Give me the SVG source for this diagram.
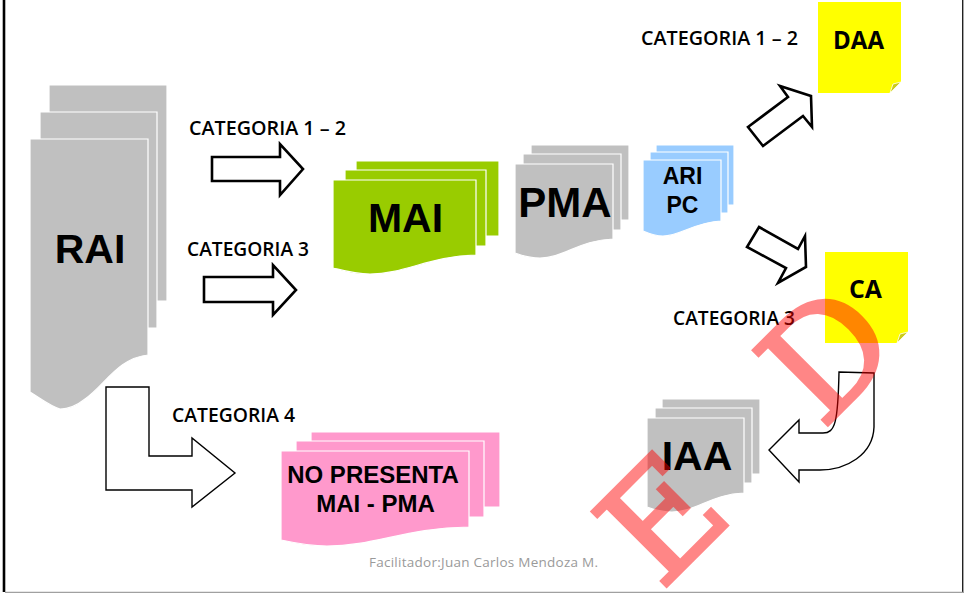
<svg xmlns="http://www.w3.org/2000/svg" width="964" height="594" viewBox="0 0 964 594">
<style>
.sheet{stroke:#fff;stroke-width:1.2}
.gray{fill:#c0c0c0}.green{fill:#99cc00}.blue{fill:#99ccff}.pink{fill:#ff99cc}.yellow{fill:#ffff00}
.fold{fill:#cccc1a;stroke:#fff;stroke-width:.8}
.arrow{fill:#fff;stroke:#000;stroke-width:2.6;stroke-miterlimit:8}
.thin{fill:#fff;stroke:#000;stroke-width:1.4;stroke-miterlimit:8}
.big{font-family:"Liberation Sans",Arial,sans-serif;font-weight:700;fill:#000;text-anchor:middle}
.lab{font-family:"Open Sans","Noto Sans",sans-serif;font-weight:600;font-size:19.5px;fill:#000}
.tah{font-family:"Open Sans","Noto Sans",sans-serif;font-weight:700;font-size:25px;fill:#000}
</style>
<rect width="964" height="594" fill="#fff"/>
<g id="frame">
<path d="M4 0V592" stroke="#000" stroke-width="2.6" fill="none"/>
<path d="M962.7 0V592" stroke="#222" stroke-width="1.4" fill="none"/>
<path d="M5 592.4H964" stroke="#a0a0a0" stroke-width="1.4" fill="none"/>
</g>
<g id="connectors">
<path class="arrow" d="M212 157H280V144L303 169L280 195V181H212Z"/>
<path class="arrow" d="M204 277H273V265L296 290L273 315V302H204Z"/>
<path class="arrow" d="M748 127L788 97L780 86L811 96L812 127L803 116L763 146Z"/>
<path class="arrow" d="M759 227L798 249L805 236L806 267L778 283L786 268L747 247Z"/>
<path class="thin" d="M106 387H149V456H192V438L235 473L192 507V490H106Z"/>
<path class="thin" d="M839 372L874 373V427C873 455 846 470 820 470H799V482L769 450L799 420V433H823C835 433 838 423 839 372Z"/>
</g>
<g id="RAI">
<path class="sheet gray" d="M49 85H167V301H49Z"/>
<path class="sheet gray" d="M40 112H157V328H40Z"/>
<path class="sheet gray" d="M30 139H148V355C118 358 105 385 85 399C75 407 68 409 60 409C50 406 40 398 30 392Z"/>
<text class="big" x="90" y="263" font-size="41">RAI</text>
</g>
<g id="MAI">
<path class="sheet green" d="M356 161H499V236H356Z"/>
<path class="sheet green" d="M345 170H486V246H345Z"/>
<path class="sheet green" d="M333 180H476V255C430 256 405 274 370 274C355 274 345 271 333 268Z"/>
<text class="big" x="405.500" y="232" font-size="41">MAI</text>
</g>
<g id="PMA">
<path class="sheet gray" d="M531 145H629V220H531Z"/>
<path class="sheet gray" d="M523 154H621V230H523Z"/>
<path class="sheet gray" d="M515 164H613V239C580 240 563 258 540 258C530 258 523 256 515 253Z"/>
<text class="big" x="565" y="217" font-size="42">PMA</text>
</g>
<g id="ARI-PC">
<path class="sheet blue" d="M656 145H734V205H656Z"/>
<path class="sheet blue" d="M650 152H728V213H650Z"/>
<path class="sheet blue" d="M643 160H721V221C695 222 680 236 663 236C656 236 650 234 643 231Z"/>
<text class="big" x="682.500" y="184" font-size="23">ARI</text>
<text class="big" x="682.500" y="213" font-size="23">PC</text>
</g>
<g id="DAA">
<path class="yellow" d="M818 2H901V82L890 93H818Z"/>
<path class="fold" d="M890 93L893 84L901 82Z"/>
<text class="tah" x="833" y="49" textLength="51" lengthAdjust="spacingAndGlyphs">DAA</text>
</g>
<g id="CA">
<path class="yellow" d="M825 252H908V332L897 343H825Z"/>
<path class="fold" d="M897 343L900 334L908 332Z"/>
<text class="tah" x="849" y="298" textLength="33" lengthAdjust="spacingAndGlyphs">CA</text>
</g>
<g id="IAA">
<path class="sheet gray" d="M662 399H760V474H662Z"/>
<path class="sheet gray" d="M655 408H752V483H655Z"/>
<path class="sheet gray" d="M647 418H744V493C712 494 695 512 672 512C662 512 655 510 647 507Z"/>
<text class="big" x="697" y="470" font-size="41">IAA</text>
</g>
<g id="NO-PRESENTA">
<path class="sheet pink" d="M311 432H500V507H311Z"/>
<path class="sheet pink" d="M296 441H484V517H296Z"/>
<path class="sheet pink" d="M281 451H469V527C405 528 375 546 327 546C310 546 295 543 281 540Z"/>
<text class="big" x="373" y="483" font-size="24">NO PRESENTA</text>
<text class="big" x="375.500" y="512" font-size="24">MAI - PMA</text>
</g>
<g id="labels">
<text class="lab" x="641" y="45" textLength="157" lengthAdjust="spacingAndGlyphs">CATEGORIA 1 – 2</text>
<text class="lab" x="189" y="135" textLength="157" lengthAdjust="spacingAndGlyphs">CATEGORIA 1 – 2</text>
<text class="lab" x="187" y="256" textLength="122" lengthAdjust="spacingAndGlyphs">CATEGORIA 3</text>
<text class="lab" x="172" y="422" textLength="123" lengthAdjust="spacingAndGlyphs">CATEGORIA 4</text>
<text class="lab" x="673" y="325" textLength="122" lengthAdjust="spacingAndGlyphs">CATEGORIA 3</text>
<text x="369" y="567" font-family="Open Sans,Noto Sans,sans-serif" font-size="13.500" fill="#9a9a9a" textLength="229" lengthAdjust="spacing">Facilitador:Juan Carlos Mendoza M.</text>
</g>
<g id="watermark">
<text transform="translate(661,592) rotate(-45)" font-family="DejaVu Serif,serif" font-size="145" fill="#ff0000" stroke="#ff0000" stroke-width="3" opacity="0.47"><tspan x="0">E</tspan><tspan x="228">D</tspan></text>
</g>
</svg>
